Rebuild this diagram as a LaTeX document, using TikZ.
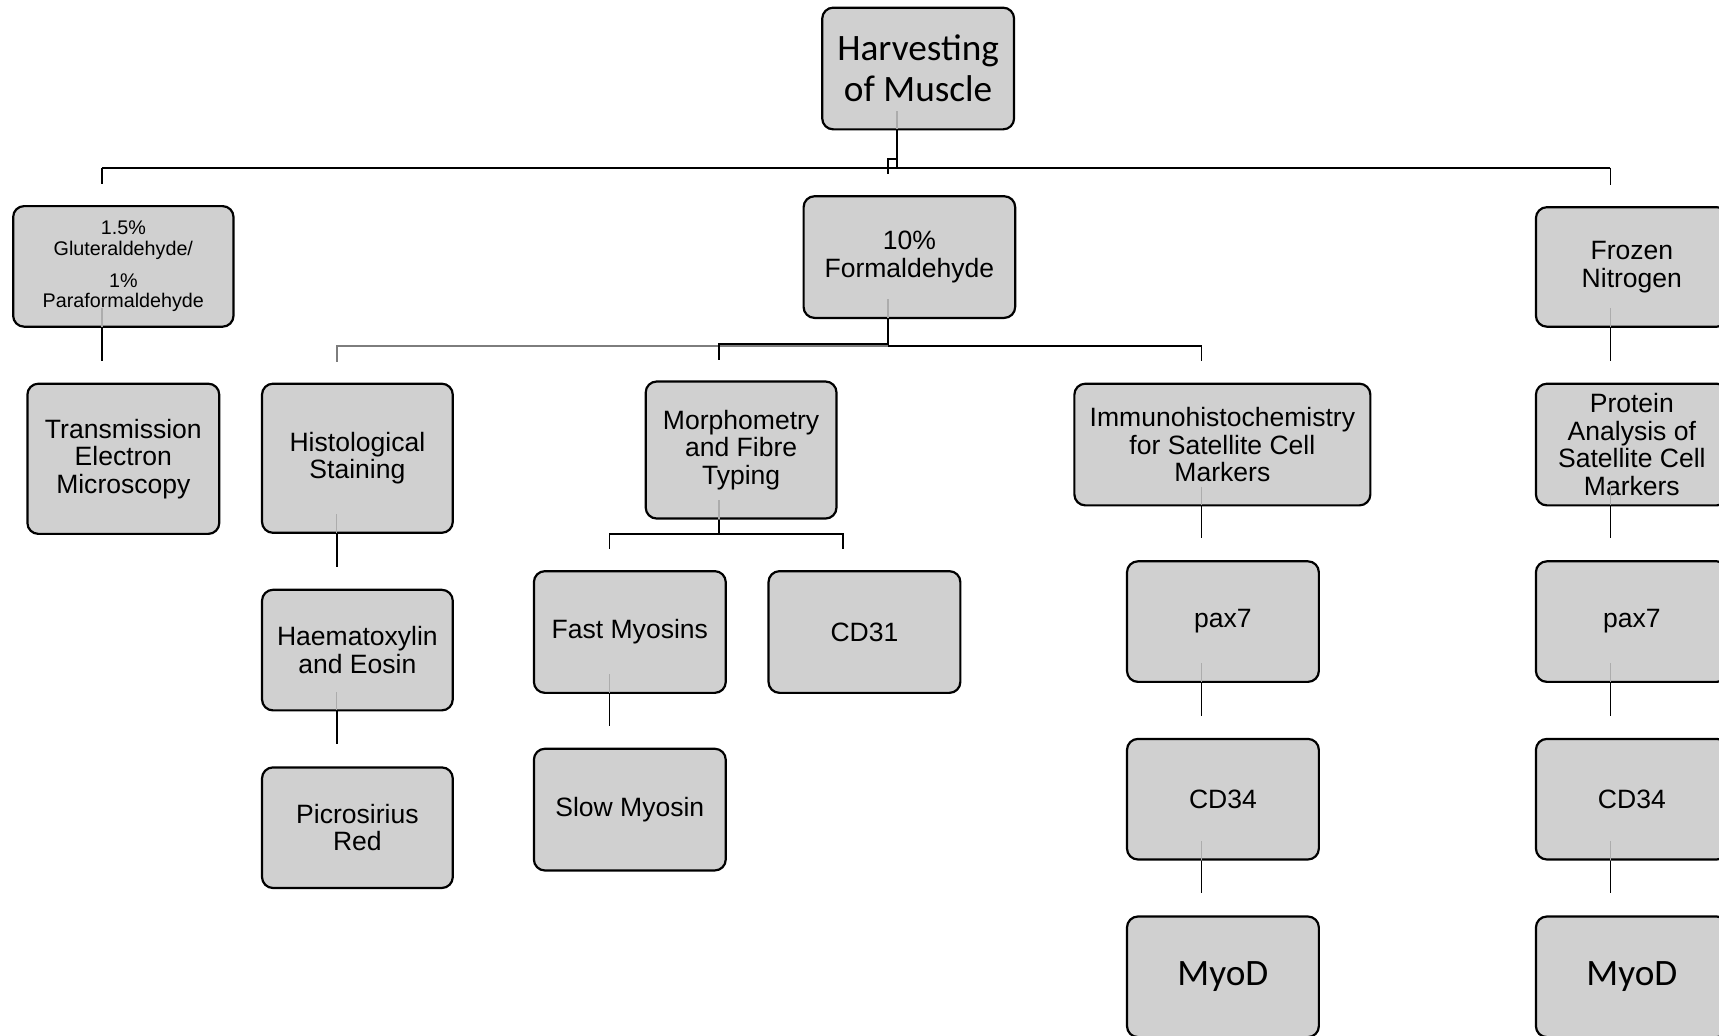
\documentclass[tikz,border=0pt]{standalone}
\usepackage{fontspec}
\setmainfont{Liberation Sans}
\newfontfamily\calibri{Carlito}

\definecolor{boxfill}{RGB}{208,208,208}
\definecolor{stubgray}{RGB}{172,172,172}
\definecolor{busgray}{RGB}{125,125,125}

\tikzset{
  box/.style={draw=black, line width=1pt, fill=boxfill, rounded corners=5pt,
    minimum width=87.5pt, minimum height=55pt, inner sep=1pt, align=center,
    font=\fontsize{12.1}{12.5}\selectfont},
  bigtext/.style={font=\calibri\fontsize{17}{18.5}\selectfont},
  smalltext/.style={font=\fontsize{9}{9.5}\selectfont},
  link/.style={line width=0.85pt},
  instub/.style={stubgray, line width=0.8pt},
}

\begin{document}
\begin{tikzpicture}[x=0.5pt, y=-0.5pt]
    \useasboundingbox (0,0) rectangle (1568,945);
    \fill[white] (0,0) rectangle (1568,945);
    \clip (0,0) rectangle (1568,945);

    % columns and bus levels
    \coordinate (cHarv) at (818,0);
    \coordinate (cGlut) at (93,0);
    \coordinate (cForm) at (810,0);
    \coordinate (cFroz) at (1469,0);
    \coordinate (cHist) at (307,0);
    \coordinate (cMorph) at (656,0);
    \coordinate (cImm) at (1096,0);
    \coordinate (cFast) at (556,0);
    \coordinate (cCD) at (769,0);
    \coordinate (bus1) at (0,153);
    \coordinate (hook) at (0,145);
    \coordinate (bus2) at (0,315.3);
    \coordinate (bus2b) at (0,313.5);
    \coordinate (bus3) at (0,487);

    % boxes
    \node[box, bigtext, minimum height=55.5pt] (harvest) at (837.5,62.5) {Harvesting\\of Muscle};
    \node[box, smalltext, minimum width=100.5pt] (glut) at (112.5,243) {1.5\%\\Gluteraldehyde/\\[5pt]1\%\\Paraformaldehyde};
    \node[box, minimum height=68.5pt] (tem) at (112.5,418.5) {Transmission\\Electron\\Microscopy};
    \node[box, minimum width=96.5pt, minimum height=55.5pt] (form) at (829.5,234.5) {10\%\\Formaldehyde};
    \node[box, minimum height=54.5pt] (frozen) at (1488.5,243.5) {Frozen\\Nitrogen};
    \node[box, minimum width=87pt, minimum height=68pt] (histo) at (326,418) {Histological\\Staining};
    \node[box, minimum width=87pt, minimum height=62.5pt] (morph) at (676,410.5) {Morphometry\\and Fibre\\Typing};
    \node[box, minimum width=135pt, minimum height=55.5pt] (immuno) at (1115,405.5) {Immunohistochemistry\\for Satellite Cell\\Markers};
    \node[box, minimum height=55.5pt] (protein) at (1488.5,405.5) {Protein\\Analysis of\\Satellite Cell\\Markers};
    \node[box, minimum width=87pt] (haema) at (326,593) {Haematoxylin\\and Eosin};
    \node[box, minimum width=87pt] (picro) at (326,755) {Picrosirius\\Red};
    \node[box, minimum height=55.5pt] (fast) at (574.5,576.5) {Fast Myosins};
    \node[box, minimum height=55.5pt] (cd31) at (788.5,576.5) {CD31};
    \node[box, minimum height=55.5pt] (slow) at (574.5,738.5) {Slow Myosin};
    \node[box] (pax7a) at (1115.5,567) {pax7};
    \node[box] (cd34a) at (1115.5,729) {CD34};
    \node[box, bigtext] (myoda) at (1115.5,891) {MyoD};
    \node[box] (pax7b) at (1488.5,567) {pax7};
    \node[box] (cd34b) at (1488.5,729) {CD34};
    \node[box, bigtext] (myodb) at (1488.5,891) {MyoD};

    % harvesting to fixatives
    \draw[link] (cHarv |- harvest.south) -- (cHarv |- bus1);
    \draw[link] (cGlut |- bus1) -- (cFroz |- bus1);
    \draw[link, shorten >=9.5pt] (cGlut |- bus1) -- (cGlut |- glut.north);
    \draw[link, shorten >=9.5pt] (cFroz |- bus1) -- (cFroz |- frozen.north);
    \draw[link, shorten >=9.5pt] (cHarv |- hook) -- (cForm |- hook) -- (cForm |- form.north);

    % glutaraldehyde and frozen branches
    \draw[link, shorten >=10pt] (cGlut |- glut.south) -- (cGlut |- tem.north);
    \draw[link, shorten >=10pt] (cFroz |- frozen.south) -- (cFroz |- protein.north);
    \draw[link, shorten >=10pt] (cFroz |- protein.south) -- (cFroz |- pax7b.north);
    \draw[link, shorten >=10pt] (cFroz |- pax7b.south) -- (cFroz |- cd34b.north);
    \draw[link, shorten >=10pt] (cFroz |- cd34b.south) -- (cFroz |- myodb.north);

    % formaldehyde branch
    \draw[link] (cForm |- form.south) -- (cForm |- bus2);
    \draw[link, busgray, shorten >=9.5pt] (cForm |- bus2) -- (cHist |- bus2) -- (cHist |- histo.north);
    \draw[link, shorten >=9.5pt] (cForm |- bus2b) -- (cMorph |- bus2b) -- (cMorph |- morph.north);
    \draw[link, shorten >=10pt] (cForm |- bus2) -- (cImm |- bus2) -- (cImm |- immuno.north);
    \draw[link, shorten >=10pt] (cHist |- histo.south) -- (cHist |- haema.north);
    \draw[link, shorten >=10pt] (cHist |- haema.south) -- (cHist |- picro.north);
    \draw[link] (cMorph |- morph.south) -- (cMorph |- bus3);
    \draw[link, shorten >=9.5pt] (cMorph |- bus3) -- (cFast |- bus3) -- (cFast |- fast.north);
    \draw[link, shorten >=9.5pt] (cMorph |- bus3) -- (cCD |- bus3) -- (cCD |- cd31.north);
    \draw[link, shorten >=10pt] (cFast |- fast.south) -- (cFast |- slow.north);
    \draw[link, shorten >=10pt] (cImm |- immuno.south) -- (cImm |- pax7a.north);
    \draw[link, shorten >=10pt] (cImm |- pax7a.south) -- (cImm |- cd34a.north);
    \draw[link, shorten >=10pt] (cImm |- cd34a.south) -- (cImm |- myoda.north);

    % grey ends showing through the boxes
    \draw[instub] (cHarv |- harvest.south) ++(0,-1) -- ++(0,-17);
    \draw[instub] (cGlut |- glut.south) ++(0,-1) -- ++(0,-17);
    \draw[instub] (cForm |- form.south) ++(0,-1) -- ++(0,-17);
    \draw[instub] (cFroz |- frozen.south) ++(0,-1) -- ++(0,-17);
    \draw[instub] (cFroz |- protein.south) ++(0,-1) -- ++(0,-17);
    \draw[instub] (cFroz |- pax7b.south) ++(0,-1) -- ++(0,-17);
    \draw[instub] (cFroz |- cd34b.south) ++(0,-1) -- ++(0,-17);
    \draw[instub] (cHist |- histo.south) ++(0,-1) -- ++(0,-17);
    \draw[instub] (cHist |- haema.south) ++(0,-1) -- ++(0,-17);
    \draw[instub] (cMorph |- morph.south) ++(0,-1) -- ++(0,-17);
    \draw[instub] (cFast |- fast.south) ++(0,-1) -- ++(0,-17);
    \draw[instub] (cImm |- immuno.south) ++(0,-1) -- ++(0,-17);
    \draw[instub] (cImm |- pax7a.south) ++(0,-1) -- ++(0,-17);
    \draw[instub] (cImm |- cd34a.south) ++(0,-1) -- ++(0,-17);
\end{tikzpicture}
\end{document}
